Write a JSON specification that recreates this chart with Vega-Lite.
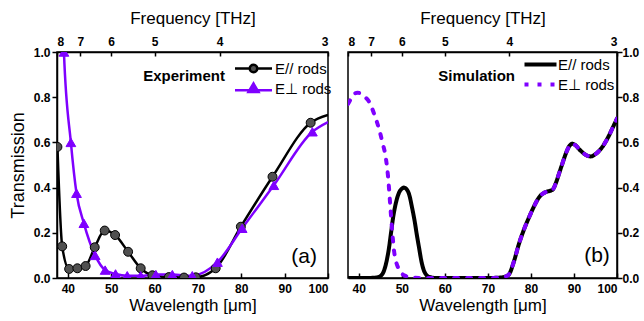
{
  "$schema": "https://vega.github.io/schema/vega-lite/v6.json",
  "background": "white",
  "padding": {"left": 8, "top": 8, "right": 3, "bottom": 3},
  "bounds": "flush",
  "spacing": 20,
  "resolve": {
    "scale": {"color": "independent", "fill": "independent", "stroke": "independent", "shape": "independent", "strokeDash": "independent"},
    "legend": {"color": "independent", "fill": "independent", "stroke": "independent", "shape": "independent", "strokeDash": "independent"}
  },
  "config": {
    "font": "Liberation Sans",
    "view": {"stroke": "black", "strokeWidth": 1.5},
    "axis": {
      "labelFont": "Liberation Sans", "labelFontWeight": "bold", "labelFontSize": 12, "labelColor": "black",
      "titleFont": "Liberation Sans", "titleFontWeight": "normal", "titleFontSize": 17, "titleColor": "black",
      "domainColor": "black", "domainWidth": 1.5, "tickColor": "black", "tickWidth": 1.5, "grid": false
    },
    "legend": {"labelFont": "Liberation Sans", "labelFontSize": 15, "labelColor": "black"}
  },
  "datasets": {
    "exp": [
      {"series": "E// rods", "wl": 37.6, "T": 0.58},
      {"series": "E// rods", "wl": 38.7, "T": 0.14},
      {"series": "E// rods", "wl": 40.3, "T": 0.04},
      {"series": "E// rods", "wl": 42.2, "T": 0.043},
      {"series": "E// rods", "wl": 44.1, "T": 0.053},
      {"series": "E// rods", "wl": 46.2, "T": 0.136},
      {"series": "E// rods", "wl": 48.5, "T": 0.21},
      {"series": "E// rods", "wl": 50.9, "T": 0.19},
      {"series": "E// rods", "wl": 53.9, "T": 0.116},
      {"series": "E// rods", "wl": 56.8, "T": 0.043},
      {"series": "E// rods", "wl": 59.5, "T": 0.012},
      {"series": "E// rods", "wl": 63.3, "T": 0.004},
      {"series": "E// rods", "wl": 66.8, "T": 0.002},
      {"series": "E// rods", "wl": 69.5, "T": 0.003},
      {"series": "E// rods", "wl": 74.1, "T": 0.043},
      {"series": "E// rods", "wl": 79.9, "T": 0.227},
      {"series": "E// rods", "wl": 87.2, "T": 0.448},
      {"series": "E// rods", "wl": 96.0, "T": 0.687},
      {"series": "E// rods", "wl": 100, "T": 0.722},
      {"series": "E⊥ rods", "wl": 38.7, "T": 1.3},
      {"series": "E⊥ rods", "wl": 39.1, "T": 1.0},
      {"series": "E⊥ rods", "wl": 40.7, "T": 0.6},
      {"series": "E⊥ rods", "wl": 42.0, "T": 0.375},
      {"series": "E⊥ rods", "wl": 43.7, "T": 0.242},
      {"series": "E⊥ rods", "wl": 46.3, "T": 0.10},
      {"series": "E⊥ rods", "wl": 48.6, "T": 0.035},
      {"series": "E⊥ rods", "wl": 51.0, "T": 0.018},
      {"series": "E⊥ rods", "wl": 53.7, "T": 0.01},
      {"series": "E⊥ rods", "wl": 56.8, "T": 0.01},
      {"series": "E⊥ rods", "wl": 60.3, "T": 0.015},
      {"series": "E⊥ rods", "wl": 64.1, "T": 0.015},
      {"series": "E⊥ rods", "wl": 68.7, "T": 0.01},
      {"series": "E⊥ rods", "wl": 74.5, "T": 0.07},
      {"series": "E⊥ rods", "wl": 80.2, "T": 0.22},
      {"series": "E⊥ rods", "wl": 87.5, "T": 0.41},
      {"series": "E⊥ rods", "wl": 96.4, "T": 0.647},
      {"series": "E⊥ rods", "wl": 100, "T": 0.69}
    ],
    "sim": [
      {"series": "E// rods", "wl": 37.5, "T": 0.0},
      {"series": "E// rods", "wl": 42, "T": 0.0},
      {"series": "E// rods", "wl": 44, "T": 0.002},
      {"series": "E// rods", "wl": 45, "T": 0.008},
      {"series": "E// rods", "wl": 46, "T": 0.04},
      {"series": "E// rods", "wl": 47, "T": 0.13},
      {"series": "E// rods", "wl": 47.5, "T": 0.2},
      {"series": "E// rods", "wl": 48, "T": 0.27},
      {"series": "E// rods", "wl": 48.6, "T": 0.33},
      {"series": "E// rods", "wl": 49.3, "T": 0.375},
      {"series": "E// rods", "wl": 50, "T": 0.395},
      {"series": "E// rods", "wl": 50.5, "T": 0.4},
      {"series": "E// rods", "wl": 51, "T": 0.395},
      {"series": "E// rods", "wl": 51.7, "T": 0.37},
      {"series": "E// rods", "wl": 52.4, "T": 0.31},
      {"series": "E// rods", "wl": 53, "T": 0.25},
      {"series": "E// rods", "wl": 53.5, "T": 0.19},
      {"series": "E// rods", "wl": 54, "T": 0.135},
      {"series": "E// rods", "wl": 54.6, "T": 0.07},
      {"series": "E// rods", "wl": 55.2, "T": 0.03},
      {"series": "E// rods", "wl": 55.6, "T": 0.016},
      {"series": "E// rods", "wl": 56.5, "T": 0.004},
      {"series": "E// rods", "wl": 58, "T": 0.0},
      {"series": "E// rods", "wl": 70, "T": 0.0},
      {"series": "E// rods", "wl": 73, "T": 0.002},
      {"series": "E// rods", "wl": 74, "T": 0.006},
      {"series": "E// rods", "wl": 74.9, "T": 0.016},
      {"series": "E// rods", "wl": 76, "T": 0.07},
      {"series": "E// rods", "wl": 77.2, "T": 0.15},
      {"series": "E// rods", "wl": 78.5, "T": 0.22},
      {"series": "E// rods", "wl": 79.6, "T": 0.27},
      {"series": "E// rods", "wl": 80.8, "T": 0.32},
      {"series": "E// rods", "wl": 81.9, "T": 0.357},
      {"series": "E// rods", "wl": 83.4, "T": 0.38},
      {"series": "E// rods", "wl": 84.3, "T": 0.385},
      {"series": "E// rods", "wl": 85.0, "T": 0.39},
      {"series": "E// rods", "wl": 85.8, "T": 0.42},
      {"series": "E// rods", "wl": 86.5, "T": 0.46},
      {"series": "E// rods", "wl": 87.2, "T": 0.5},
      {"series": "E// rods", "wl": 88.1, "T": 0.55},
      {"series": "E// rods", "wl": 88.8, "T": 0.58},
      {"series": "E// rods", "wl": 89.6, "T": 0.594},
      {"series": "E// rods", "wl": 90.5, "T": 0.585},
      {"series": "E// rods", "wl": 91.2, "T": 0.57},
      {"series": "E// rods", "wl": 91.9, "T": 0.557},
      {"series": "E// rods", "wl": 92.9, "T": 0.543},
      {"series": "E// rods", "wl": 93.9, "T": 0.538},
      {"series": "E// rods", "wl": 95, "T": 0.548},
      {"series": "E// rods", "wl": 96.6, "T": 0.58},
      {"series": "E// rods", "wl": 98, "T": 0.625},
      {"series": "E// rods", "wl": 99, "T": 0.665},
      {"series": "E// rods", "wl": 100, "T": 0.705},
      {"series": "E⊥ rods", "wl": 37.5, "T": 0.77},
      {"series": "E⊥ rods", "wl": 38.1, "T": 0.79},
      {"series": "E⊥ rods", "wl": 39, "T": 0.815},
      {"series": "E⊥ rods", "wl": 39.7, "T": 0.82},
      {"series": "E⊥ rods", "wl": 40.5, "T": 0.815},
      {"series": "E⊥ rods", "wl": 41.5, "T": 0.8},
      {"series": "E⊥ rods", "wl": 42.4, "T": 0.78},
      {"series": "E⊥ rods", "wl": 43.5, "T": 0.73},
      {"series": "E⊥ rods", "wl": 44.7, "T": 0.66},
      {"series": "E⊥ rods", "wl": 45.5, "T": 0.6},
      {"series": "E⊥ rods", "wl": 46.3, "T": 0.53},
      {"series": "E⊥ rods", "wl": 46.8, "T": 0.45},
      {"series": "E⊥ rods", "wl": 47.4, "T": 0.3},
      {"series": "E⊥ rods", "wl": 47.8, "T": 0.2},
      {"series": "E⊥ rods", "wl": 48.2, "T": 0.12},
      {"series": "E⊥ rods", "wl": 48.7, "T": 0.07},
      {"series": "E⊥ rods", "wl": 49.3, "T": 0.04},
      {"series": "E⊥ rods", "wl": 50, "T": 0.02},
      {"series": "E⊥ rods", "wl": 51, "T": 0.008},
      {"series": "E⊥ rods", "wl": 52, "T": 0.003},
      {"series": "E⊥ rods", "wl": 54, "T": 0.0},
      {"series": "E⊥ rods", "wl": 70, "T": 0.0},
      {"series": "E⊥ rods", "wl": 73, "T": 0.002},
      {"series": "E⊥ rods", "wl": 74, "T": 0.006},
      {"series": "E⊥ rods", "wl": 74.9, "T": 0.016},
      {"series": "E⊥ rods", "wl": 76, "T": 0.07},
      {"series": "E⊥ rods", "wl": 77.2, "T": 0.15},
      {"series": "E⊥ rods", "wl": 78.5, "T": 0.22},
      {"series": "E⊥ rods", "wl": 79.6, "T": 0.27},
      {"series": "E⊥ rods", "wl": 80.8, "T": 0.32},
      {"series": "E⊥ rods", "wl": 81.9, "T": 0.357},
      {"series": "E⊥ rods", "wl": 83.4, "T": 0.38},
      {"series": "E⊥ rods", "wl": 84.3, "T": 0.385},
      {"series": "E⊥ rods", "wl": 85.0, "T": 0.39},
      {"series": "E⊥ rods", "wl": 85.8, "T": 0.42},
      {"series": "E⊥ rods", "wl": 86.5, "T": 0.46},
      {"series": "E⊥ rods", "wl": 87.2, "T": 0.5},
      {"series": "E⊥ rods", "wl": 88.1, "T": 0.55},
      {"series": "E⊥ rods", "wl": 88.8, "T": 0.58},
      {"series": "E⊥ rods", "wl": 89.6, "T": 0.594},
      {"series": "E⊥ rods", "wl": 90.5, "T": 0.585},
      {"series": "E⊥ rods", "wl": 91.2, "T": 0.57},
      {"series": "E⊥ rods", "wl": 91.9, "T": 0.557},
      {"series": "E⊥ rods", "wl": 92.9, "T": 0.543},
      {"series": "E⊥ rods", "wl": 93.9, "T": 0.538},
      {"series": "E⊥ rods", "wl": 95, "T": 0.548},
      {"series": "E⊥ rods", "wl": 96.6, "T": 0.58},
      {"series": "E⊥ rods", "wl": 98, "T": 0.625},
      {"series": "E⊥ rods", "wl": 99, "T": 0.665},
      {"series": "E⊥ rods", "wl": 100, "T": 0.705}
    ]
  },
  "hconcat": [
    {
      "width": 271,
      "height": 226,
      "resolve": {"scale": {"x": "independent"}},
      "layer": [
        {
          "layer": [
            {
              "data": {"name": "exp"},
              "mark": {"type": "line", "interpolate": "monotone", "strokeWidth": 2.5, "clip": true},
              "encoding": {
                "x": {"field": "wl", "type": "quantitative",
                  "scale": {"domain": [37.5, 100], "nice": false, "zero": false},
                  "axis": {"orient": "bottom", "title": "Wavelength [μm]",
                    "values": [40, 45, 50, 55, 60, 65, 70, 75, 80, 85, 90, 95, 100],
                    "labelExpr": "datum.value % 10 == 0 ? datum.label : ''",
                    "tickSize": {"condition": {"test": "datum.value % 10 == 0", "value": -5}, "value": -3},
                    "labelAlign": {"condition": {"test": "datum.value == 100", "value": "right"}, "value": "center"},
                    "labelPadding": 10, "titlePadding": 3}},
                "y": {"field": "T", "type": "quantitative",
                  "scale": {"domain": [0, 1], "nice": false},
                  "axis": {"orient": "left", "title": "Transmission", "titleFontSize": 18,
                    "values": [0, 0.1, 0.2, 0.3, 0.4, 0.5, 0.6, 0.7, 0.8, 0.9, 1.0],
                    "labelExpr": "round(datum.value*10) % 2 == 0 ? format(datum.value, '.1f') : ''",
                    "tickSize": {"condition": {"test": "round(datum.value*10) % 2 == 0", "value": 5}, "value": 3},
                    "labelPadding": 2, "titlePadding": 6}},
                "stroke": {"field": "series", "type": "nominal",
                  "scale": {"domain": ["E// rods", "E⊥ rods"], "range": ["black", "#7F00FF"]},
                  "legend": {"orient": "none", "legendX": 177, "legendY": 9, "title": null, "padding": 0,
                    "symbolSize": 100, "symbolStrokeWidth": 2.5, "symbolOpacity": 1, "symbolOffset": 12, "labelOffset": 14, "rowPadding": 0}}
              }
            },
            {
              "data": {"name": "exp"},
              "transform": [{"filter": "datum.series == 'E// rods' && datum.wl < 99"}],
              "mark": {"type": "point", "shape": "circle", "filled": true, "size": 80, "fill": "#505050", "stroke": "black", "strokeWidth": 1, "opacity": 1, "clip": true},
              "encoding": {
                "x": {"field": "wl", "type": "quantitative"},
                "y": {"field": "T", "type": "quantitative"}
              }
            },
            {
              "data": {"name": "exp"},
              "transform": [{"filter": "datum.series == 'E⊥ rods' && datum.wl < 99 && datum.T <= 1"}],
              "mark": {"type": "point", "shape": "triangle-up", "filled": true, "size": 95, "fill": "#7F00FF", "stroke": "#7F00FF", "strokeWidth": 1, "opacity": 1, "clip": true},
              "encoding": {
                "x": {"field": "wl", "type": "quantitative"},
                "y": {"field": "T", "type": "quantitative"}
              }
            },
            {
              "data": {"name": "exp"},
              "mark": {"type": "point", "filled": true, "size": 0, "strokeWidth": 0, "clip": true},
              "encoding": {
                "x": {"field": "wl", "type": "quantitative"},
                "y": {"field": "T", "type": "quantitative"},
                "shape": {"field": "series", "type": "nominal",
                  "scale": {"domain": ["E// rods", "E⊥ rods"],
                    "range": ["M-3.7,0H-0.75M0.75,0H3.7M-0.75,0A0.75,0.75,0,1,0,0.75,0A0.75,0.75,0,1,0,-0.75,0Z", "M-3.7,0.35H3.7M-1,0.7L0,-1L1,0.7Z"]},
                  "legend": {"orient": "none", "legendX": 177, "legendY": 9, "title": null, "padding": 0,
                    "symbolSize": 100, "symbolStrokeWidth": 2.5, "symbolOpacity": 1, "symbolOffset": 12, "labelOffset": 14, "rowPadding": 0}},
                "fill": {"field": "series", "type": "nominal",
                  "scale": {"domain": ["E// rods", "E⊥ rods"], "range": ["#505050", "#7F00FF"]},
                  "legend": {"orient": "none", "legendX": 177, "legendY": 9, "title": null, "padding": 0,
                    "symbolSize": 100, "symbolStrokeWidth": 2.5, "symbolOpacity": 1, "symbolOffset": 12, "labelOffset": 14, "rowPadding": 0}},
                "stroke": {"field": "series", "type": "nominal",
                  "scale": {"domain": ["E// rods", "E⊥ rods"], "range": ["black", "#7F00FF"]},
                  "legend": {"orient": "none", "legendX": 177, "legendY": 9, "title": null, "padding": 0,
                    "symbolSize": 100, "symbolStrokeWidth": 2.5, "symbolOpacity": 1, "symbolOffset": 12, "labelOffset": 14, "rowPadding": 0}}
              }
            },
            {
              "data": {"values": [{}]},
              "mark": {"type": "text", "text": "(a)", "fontSize": 21, "font": "Liberation Sans", "align": "center", "baseline": "middle", "color": "black"},
              "encoding": {
                "x": {"datum": 94.5, "type": "quantitative"},
                "y": {"datum": 0.093, "type": "quantitative"}
              }
            }
          ]
        },
        {
          "data": {"values": [{}]},
          "mark": {"type": "text", "text": "Experiment", "fontSize": 15, "fontWeight": "bold", "font": "Liberation Sans", "align": "center", "baseline": "middle", "color": "black"},
          "encoding": {
            "x": {"datum": 66.8, "type": "quantitative",
              "scale": {"domain": [37.5, 100], "nice": false, "zero": false},
              "axis": {"orient": "top", "title": "Frequency [THz]",
                "values": [37.5, 42.857142857142854, 50, 60, 75, 100],
                "labelExpr": "format(300/datum.value, '.0f')",
                "tickSize": -4, "labelPadding": 8, "titlePadding": 8}},
            "y": {"datum": 0.894, "type": "quantitative"}
          }
        }
      ]
    },
    {
      "width": 269,
      "height": 226,
      "resolve": {"scale": {"x": "independent"}},
      "layer": [
        {
          "layer": [
            {
              "data": {"name": "sim"},
              "mark": {"type": "line", "interpolate": "monotone", "strokeWidth": 4, "strokeCap": "round", "clip": true},
              "encoding": {
                "x": {"field": "wl", "type": "quantitative",
                  "scale": {"domain": [37.5, 100], "nice": false, "zero": false},
                  "axis": {"orient": "bottom", "title": "Wavelength [μm]",
                    "values": [40, 45, 50, 55, 60, 65, 70, 75, 80, 85, 90, 95, 100],
                    "labelExpr": "datum.value % 10 == 0 ? datum.label : ''",
                    "tickSize": {"condition": {"test": "datum.value % 10 == 0", "value": -5}, "value": -3},
                    "labelAlign": {"condition": {"test": "datum.value == 100", "value": "right"}, "value": "center"},
                    "labelPadding": 10, "titlePadding": 3}},
                "y": {"field": "T", "type": "quantitative",
                  "scale": {"domain": [0, 1], "nice": false},
                  "axis": {"orient": "right", "title": null,
                    "values": [0, 0.1, 0.2, 0.3, 0.4, 0.5, 0.6, 0.7, 0.8, 0.9, 1.0],
                    "labelExpr": "round(datum.value*10) % 2 == 0 ? format(datum.value, '.1f') : ''",
                    "tickSize": {"condition": {"test": "round(datum.value*10) % 2 == 0", "value": 5}, "value": 3},
                    "labelPadding": 0}},
                "color": {"field": "series", "type": "nominal",
                  "scale": {"domain": ["E// rods", "E⊥ rods"], "range": ["black", "#7F00FF"]},
                  "legend": {"orient": "none", "legendX": 176, "legendY": 5, "title": null, "padding": 0,
                    "symbolType": "M-3.2,0H3.2", "symbolSize": 100, "symbolStrokeWidth": 4, "symbolOffset": 9, "labelOffset": 10, "rowPadding": 3}},
                "strokeDash": {"field": "series", "type": "nominal",
                  "scale": {"domain": ["E// rods", "E⊥ rods"], "range": [[1, 0], [4, 9]]},
                  "legend": {"orient": "none", "legendX": 176, "legendY": 5, "title": null, "padding": 0,
                    "symbolType": "M-3.2,0H3.2", "symbolSize": 100, "symbolStrokeWidth": 4, "symbolOffset": 9, "labelOffset": 10, "rowPadding": 3}}
              }
            },
            {
              "data": {"values": [{}]},
              "mark": {"type": "text", "text": "(b)", "fontSize": 21, "font": "Liberation Sans", "align": "center", "baseline": "middle", "color": "black"},
              "encoding": {
                "x": {"datum": 95.35, "type": "quantitative"},
                "y": {"datum": 0.098, "type": "quantitative"}
              }
            }
          ]
        },
        {
          "data": {"values": [{}]},
          "mark": {"type": "text", "text": "Simulation", "fontSize": 15, "fontWeight": "bold", "font": "Liberation Sans", "align": "center", "baseline": "middle", "color": "black"},
          "encoding": {
            "x": {"datum": 67.4, "type": "quantitative",
              "scale": {"domain": [37.5, 100], "nice": false, "zero": false},
              "axis": {"orient": "top", "title": "Frequency [THz]",
                "values": [37.5, 42.857142857142854, 50, 60, 75, 100],
                "labelExpr": "format(300/datum.value, '.0f')",
                "tickSize": -4, "labelPadding": 8, "titlePadding": 8}},
            "y": {"datum": 0.893, "type": "quantitative"}
          }
        }
      ]
    }
  ]
}
